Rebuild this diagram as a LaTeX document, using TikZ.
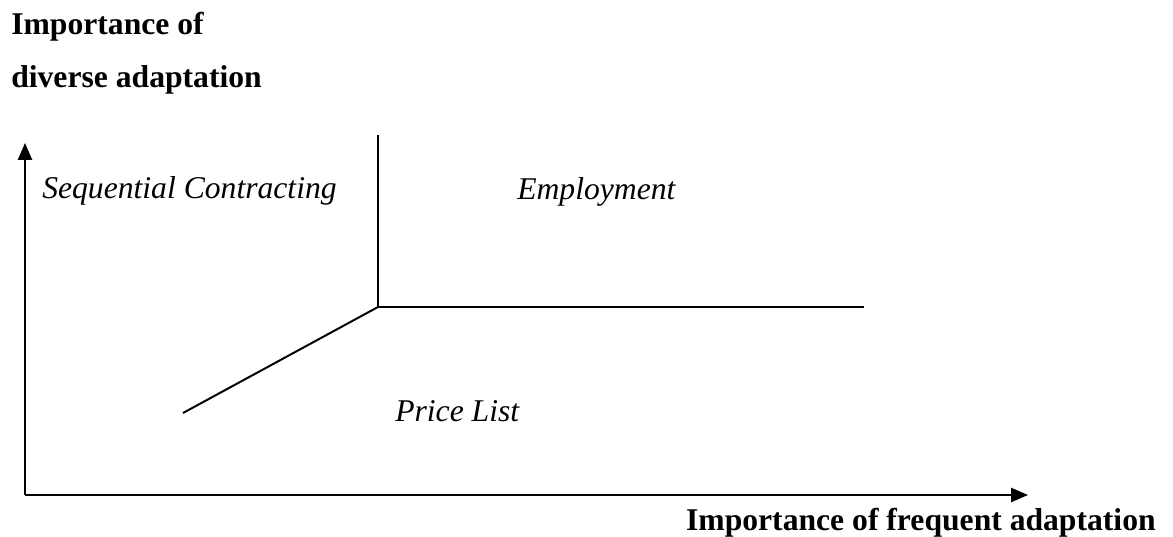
\documentclass[tikz,border=0pt]{standalone}
\usepackage{fontspec}
\setmainfont{Liberation Serif}[
  BoldFont=Liberation Serif Bold,
  ItalicFont=Liberation Serif Italic]
\usetikzlibrary{arrows.meta}

\begin{document}
\begin{tikzpicture}[x=0.025cm, y=-0.025cm,
    axislabel/.style ={inner sep=0pt, font=\fontsize{22.5}{27}\selectfont\bfseries},
    region/.style ={inner sep=0pt, font=\fontsize{22.5}{27}\selectfont\itshape},
    boundary/.style ={line width=1.4pt},
    axis/.style ={line width=1.4pt, -{Triangle[length=12pt, width=10pt]}}]
   \useasboundingbox (0,0) rectangle (1173,537);

   \coordinate (O) at (25,495);
   \coordinate (Ytop) at (25,143);
   \coordinate (Xend) at (1028,495);
   \coordinate (Vtop) at (378,135);
   \coordinate (C) at (378,307);
   \coordinate (Hend) at (864,307);
   \coordinate (Dend) at (183,413);

   \node[axislabel, anchor=base west] (ylab1) at (11,35) {Importance of};
   \node[axislabel, anchor=base west] (ylab2) at (11,88) {diverse adaptation};
   \node[axislabel, anchor=base east] (xlab) at (1156,530) {Importance of frequent adaptation};

   \node[region, anchor=base west] (seq) at (42,199) {Sequential Contracting};
   \node[region, anchor=base west] (emp) at (517,200) {Employment};
   \node[region, anchor=base west] (price) at (395,422) {Price List};

   \draw[axis] (O) to (Ytop);
   \draw[axis] (O) to (Xend);
   \draw[boundary] (Vtop) to (C);
   \draw[boundary] (C) to (Hend);
   \draw[boundary] (C) to (Dend);
 \end{tikzpicture}
\end{document}
